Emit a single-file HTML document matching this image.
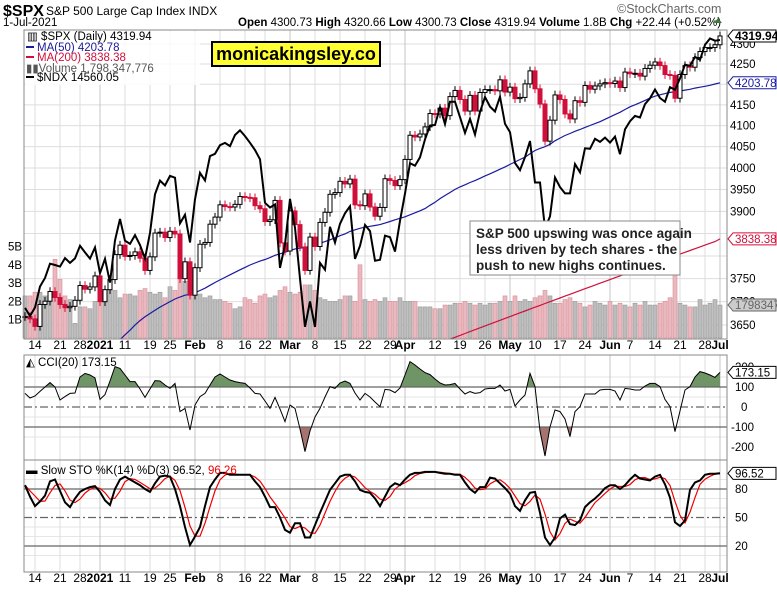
<!DOCTYPE html>
<html><head><meta charset="utf-8"><style>
body{margin:0;background:#fff;}
svg text{font-family:"Liberation Sans",Arial,sans-serif;}
</style></head><body>
<svg id="chart" width="777" height="587" viewBox="0 0 777 587" xmlns="http://www.w3.org/2000/svg">
<rect x="0" y="0" width="777" height="587" fill="#fff"/>
<g>
<text x="3" y="16" font-size="16" font-weight="bold">$SPX</text>
<text x="46" y="15" font-size="12">S&amp;P 500 Large Cap Index  INDX</text>
<text x="3" y="26" font-size="11.5">1-Jul-2021</text>
<text x="617" y="13" font-size="12.5" fill="#666">©StockCharts.com</text>
<text x="238" y="26" font-size="11.5"><tspan font-weight="bold">Open</tspan> 4300.73 <tspan font-weight="bold">High</tspan> 4320.66 <tspan font-weight="bold">Low</tspan> 4300.73 <tspan font-weight="bold">Close</tspan> 4319.94 <tspan font-weight="bold">Volume</tspan> 1.8B <tspan font-weight="bold">Chg</tspan> +22.44 (+0.52%)</text>
<polygon points="714,23 722,23 718,18" fill="#3a7a3a"/>
</g>
<g id="grid"></g>
<g id="marks"></g>
<g id="axes"></g>
<g font-size="11.5">
<rect x="25" y="31" width="175" height="54" fill="#fff" opacity="0.85"/>
<text x="27" y="40">▥ $SPX (Daily) 4319.94</text>
<line x1="26" y1="47" x2="34" y2="47" stroke="#1a1a9a" stroke-width="2"/>
<text x="37" y="51" fill="#1a1a9a">MA(50) 4203.78</text>
<line x1="26" y1="57" x2="34" y2="57" stroke="#d0103a" stroke-width="2"/>
<text x="37" y="61" fill="#d0103a">MA(200) 3838.38</text>
<text x="26" y="72" fill="#555">▮▮Volume 1,798,347,776</text>
<line x1="26" y1="77" x2="34" y2="77" stroke="#000" stroke-width="2"/>
<text x="37" y="81">$NDX 14560.05</text>
</g>
<g>
<rect x="212" y="42" width="168" height="24" fill="#ffff33" stroke="#000" stroke-width="2"/>
<text x="296" y="60" font-size="18" font-weight="bold" text-anchor="middle">monicakingsley.co</text>
</g>
<g>
<rect x="470" y="221" width="210" height="54" fill="#fff" stroke="#888" stroke-width="1"/>
<text x="476" y="238" font-size="13.5" font-weight="bold" fill="#222">S&amp;P 500 upswing was once again</text>
<text x="476" y="254" font-size="13.5" font-weight="bold" fill="#222">less driven by tech shares - the</text>
<text x="476" y="270" font-size="13.5" font-weight="bold" fill="#222">push to new highs continues.</text>
</g>
<text x="26" y="366" font-size="11.5">◭ CCI(20) 173.15</text>
<text x="26" y="474" font-size="11.5">▬ Slow STO %K(14) %D(3) 96.52, <tspan fill="#e00">96.26</tspan></text>
</svg>
<script>
const closes=[3668,3663,3647,3694,3701,3722,3709,3694,3687,3690,3703,3735,3727,3732,3756,
3700,3726,3748,3803,3824,3799,3801,3809,3795,3768,3798,3851,3853,3841,3855,3849,3750,3787,3714,
3774,3826,3830,3871,3887,3915,3911,3910,3916,3934,3932,3931,3913,3906,3877,3881,3925,3829,3811,
3901,3870,3820,3768,3842,3821,3875,3898,3939,3943,3969,3963,3974,3915,3913,3940,3910,3889,3909,3975,3971,3959,3973,
4020,4077,4073,4080,4097,4129,4128,4142,4124,4170,4185,4163,4135,4173,4135,4180,4187,4187,4184,4211,4181,
4193,4165,4168,4201,4233,4189,4152,4063,4113,4174,4163,4128,4116,4160,4156,4197,4188,4196,4201,4204,
4202,4208,4192,4230,4226,4227,4220,4239,4247,4255,4246,4224,4222,4166,4224,4246,4242,4266,4281,4291,4291,4298,
4320];
const priorCloses=[3363,3380,3348,3408,3361,3419,3446,3477,3535,3534,3512,3483,3483,3427,3435,3443,3453,3465,3400,3391,3271,3310,3270,
3310,3369,3443,3510,3509,3550,3546,3573,3537,3585,3626,3609,3567,3582,3557,3582,3636,3629,3630,3638,3662,3669,3666,3699,3691,3702,3672];
const ndx=[12437,12378,12440,12595,12658,12765,12755,12743,12807,12771,12805,12900,12850,12803,12888,
12694,12802,12624,12941,13105,12939,12914,12981,12906,12804,12998,13297,13404,13366,13441,13427,13071,13138,12925,
13258,13465,13406,13599,13617,13686,13705,13679,13769,13807,13760,13706,13648,13573,13230,13194,13217,12733,12909,
13261,13038,12653,12300,12484,12299,12771,12720,13045,12924,13068,13149,13203,12801,12900,13059,13012,12787,12794,12977,12965,12856,13091,
13302,13542,13522,13589,13733,13845,13850,13996,13857,14041,14041,13914,13786,13900,13773,13957,14080,14001,13960,14082,13860,
13791,13544,13487,13590,13720,13389,13389,13032,13125,13429,13353,13304,13304,13535,13470,13661,13657,13738,13713,13748,
13707,13756,13614,13814,13881,13924,13911,14021,14069,14142,14072,14040,14161,14140,14235,14350,14340,14416,14391,14519,14573,14554,
14560];
const volumeB=[2.3,2.3,2.5,2.5,2.3,2.2,4.3,3.2,2.3,2.1,0.8,1.7,1.7,1.6,2.0,
2.6,2.3,2.8,2.6,2.2,2.4,2.4,2.3,2.6,2.7,2.5,2.4,2.5,2.2,2.8,2.6,3.5,3.1,3.3,
2.4,2.4,2.2,2.3,2.1,2.1,2.0,1.9,1.6,1.7,2.2,2.1,1.9,2.3,2.4,2.2,2.3,2.6,2.8,
2.5,2.4,2.5,2.9,2.9,2.6,2.2,2.1,2.0,2.0,2.1,2.3,2.3,2.0,4.0,2.1,2.0,2.1,2.0,2.2,2.0,2.0,2.2,
2.0,2.0,2.0,1.7,1.7,1.7,1.6,1.6,1.8,1.8,1.9,1.9,2.0,1.9,1.8,1.9,1.8,1.9,1.9,2.0,2.3,
2.0,2.3,2.0,2.1,2.0,2.2,2.3,2.6,2.3,1.9,1.9,2.1,2.2,2.0,1.9,1.7,1.8,2.0,1.9,1.8,
2.0,1.8,1.9,1.8,1.7,1.9,1.8,2.0,1.8,1.8,1.9,2.0,2.2,3.7,1.9,1.8,1.7,1.7,2.1,1.8,1.9,2.1,
1.8];
const ma200=[null,null,null,null,null,null,null,null,null,null,null,null,null,null,null,null,null,null,null,null,
null,null,null,null,null,null,null,null,null,null,null,null,null,null,null,null,null,null,null,null,
null,null,null,null,null,null,null,null,null,null,null,null,null,null,null,null,null,null,null,null,
null,null,null,null,null,null,null,null,null,null,null,null,null,null,null,null,null,null,null,null,
3600,3604,3608,3612,3616,3620,3624,3628,3632,3636,3640,3644,3648,3652,3656,3660,3664,3668,3672,3676,
3680,3684,3688,3692,3696,3700,3704,3708,3712,3716,3720,3724,3728,3732,3736,3740,3744,3748,3752,3756,
3760,3764,3768,3772,3776,3780,3784,3788,3792,3796,3800,3804,3808,3812,3816,3820,3824,3828,3832,3838];
const cci=[68,45,55,78,100,122,100,35,52,68,70,150,168,160,145,38,62,130,202,193,160,127,127,90,48,90,132,130,110,93,118,-23,-7,-115,10,52,68,110,150,165,150,135,127,122,118,95,68,65,30,-7,48,-10,-73,10,-7,-110,-223,-120,-50,-7,50,102,93,120,130,118,70,35,68,50,25,2,88,85,72,95,160,227,210,190,172,162,140,120,110,112,118,90,65,77,68,72,90,93,93,110,80,88,5,35,60,168,102,-120,-245,-100,-15,-23,-60,-148,-23,2,65,65,65,85,88,88,80,35,93,90,85,85,105,118,118,102,38,2,-123,-20,85,102,150,177,170,160,148,173];
const stoK=[84,72,62,67,73,88,90,78,66,61,70,77,80,82,83,77,68,63,80,90,93,90,87,84,80,77,86,93,94,93,80,62,40,21,30,40,62,82,90,97,97,95,95,95,95,95,88,82,72,61,61,50,37,34,44,44,29,29,42,55,67,79,86,93,95,95,88,79,77,76,70,62,72,82,86,84,90,95,97,97,98,98,98,97,96,96,95,95,87,80,76,82,82,92,91,86,81,75,62,57,68,76,77,55,29,21,29,49,53,43,42,47,61,66,70,75,81,84,84,80,84,90,95,91,90,89,93,95,85,71,45,41,47,79,87,89,95,96,96,96.5];
const dateLabels=["14","21","28","2021","11","19","25","Feb","8","16","22","Mar","8","15","22","29","Apr","12","19","26","May","10","17","24","Jun","7","14","21","28","Jul"];
const dateIdx=[2,7,11,15,20,25,29,34,39,44,48,53,58,63,68,73,76,82,87,92,97,102,107,112,117,121,126,131,136,139];
const boldLabels=["2021","Feb","Mar","Apr","May","Jun","Jul"];
const priceTicks=[4300,4250,4150,4100,4050,4000,3950,3900,3750,3700,3650];
const priceGrid=[4300,4250,4200,4150,4100,4050,4000,3950,3900,3850,3800,3750,3700,3650];
const volTicks=[1,2,3,4,5];
const cciTicks=[200,100,0,-100,-200];
const stoTicks=[80,50,20];

const NS="http://www.w3.org/2000/svg";
const L=24,R=727;
function px(k){return 25+5*k;}
function py(p){return 64+1715*Math.log(4250/p);}
function pn(v){return 40+1700*Math.log(14560/v);}
function pv(v){return 338-18.3*v;}
function pc(v){return 407-0.2*v;}
function ps(v){return 565-0.95*v;}
function el(tag,attrs,parent){const e=document.createElementNS(NS,tag);for(const k in attrs)e.setAttribute(k,attrs[k]);parent.appendChild(e);return e;}
const svg=document.getElementById('chart');
const grid=document.getElementById('grid'),marks=document.getElementById('marks'),axes=document.getElementById('axes');

const defs=el('defs',{},svg);
const c1=el('clipPath',{id:'mainClip'},defs);el('rect',{x:L,y:30,width:R-L,height:309},c1);
const c2=el('clipPath',{id:'cciUp'},defs);el('rect',{x:L,y:355,width:R-L,height:pc(100)-355},c2);
const c3=el('clipPath',{id:'cciDn'},defs);el('rect',{x:L,y:pc(-100),width:R-L,height:460-pc(-100)},c3);
const c4=el('clipPath',{id:'cciClip'},defs);el('rect',{x:L,y:355,width:R-L,height:105},c4);

priceGrid.forEach(p=>{const l=el('line',{x1:L,x2:R,y1:py(p),y2:py(p),stroke:'#dedede'},grid);

});
[150,50,-50,-150].forEach(v=>{el('line',{x1:L,x2:R,y1:pc(v),y2:pc(v),stroke:'#e6e6e6'},grid);});
[90,70,60,40,30,10].forEach(v=>{el('line',{x1:L,x2:R,y1:ps(v),y2:ps(v),stroke:'#e6e6e6'},grid);});
dateIdx.forEach((k,j)=>{const b=boldLabels.includes(dateLabels[j]);
[[30,339],[355,460],[460,572]].forEach(r=>{el('line',{x1:px(k),x2:px(k),y1:r[0],y2:r[1],stroke:b?'#c4c4c4':'#dedede'},grid);});});

volumeB.forEach((v,k)=>{const down=k>0&&closes[k]<closes[k-1];
const r=el('rect',{x:px(k)-2,y:pv(v),width:4,height:338-pv(v),fill:down?'#e9b9bf':'#bcbcbc',stroke:down?'#d98a95':'#999','stroke-width':0.6},marks);

});

function line(vals,fx,fy,attrs,name,clip){let d='';vals.forEach((v,k)=>{if(v==null)return;d+=(d?'L':'M')+fx(k).toFixed(1)+','+fy(v).toFixed(1);});
const p=el('path',Object.assign({d:d,fill:'none'},attrs),marks);if(clip)p.setAttribute('clip-path','url(#'+clip+')');

return p;}

const all=priorCloses.concat(closes);
const ma50=closes.map((c,k)=>{const e=k+priorCloses.length;let s=0;for(let j=e-49;j<=e;j++)s+=all[j];return s/50;});
line(ma200,px,py,{stroke:'#d0103a','stroke-width':1.2},'ma200-line','mainClip');
line(ma50,px,py,{stroke:'#1a1aa0','stroke-width':1.2},'ma50-line','mainClip');

closes.forEach((c,k)=>{const o=k>0?closes[k-1]:c;const down=k>0&&c<closes[k-1];
const hi=Math.max(o,c)*1.0025,lo=Math.min(o,c)*0.9975;const col=down?'#d0103a':'#000';
const g=el('g',{},marks);


el('line',{x1:px(k),x2:px(k),y1:py(hi),y2:py(lo),stroke:col,'stroke-width':1},g);
const top=py(Math.max(o,c)),h=Math.max(1,py(Math.min(o,c))-top);
el('rect',{x:px(k)-2,y:top,width:4,height:h,fill:c<o?col:'#fff',stroke:col,'stroke-width':1},g);});

line(ndx,px,pn,{stroke:'#000','stroke-width':2},'ndx-line','mainClip');

let cd='';cci.forEach((v,k)=>{cd+=(cd?'L':'M')+px(k)+','+pc(v).toFixed(1);});
const cu=el('path',{d:cd+'L'+px(cci.length-1)+','+pc(100)+'L'+px(0)+','+pc(100)+'Z',fill:'#6f9465',stroke:'none','clip-path':'url(#cciUp)'},marks);


const cdn=el('path',{d:cd+'L'+px(cci.length-1)+','+pc(-100)+'L'+px(0)+','+pc(-100)+'Z',fill:'#a57470',stroke:'none','clip-path':'url(#cciDn)'},marks);


[100,-100].forEach(v=>el('line',{x1:L,x2:R,y1:pc(v),y2:pc(v),stroke:'#666','stroke-width':1.3},marks));
el('line',{x1:L,x2:R,y1:pc(0),y2:pc(0),stroke:'#666','stroke-width':1.2,'stroke-dasharray':'8,3,2,3'},marks);
line(cci,px,pc,{stroke:'#000','stroke-width':1},'cci-line','cciClip');

const stoD=stoK.map((v,k)=>{const a=stoK.slice(Math.max(0,k-2),k+1);return a.reduce((s,x)=>s+x,0)/a.length;});
[80,20].forEach(v=>el('line',{x1:L,x2:R,y1:ps(v),y2:ps(v),stroke:'#666','stroke-width':1.3},marks));
el('line',{x1:L,x2:R,y1:ps(50),y2:ps(50),stroke:'#666','stroke-width':1.2,'stroke-dasharray':'8,3,2,3'},marks);
line(stoD,px,ps,{stroke:'#e00','stroke-width':1.2},'sto-d-line');
line(stoK,px,ps,{stroke:'#000','stroke-width':2},'sto-k-line');

[[30,339],[355,460],[460,572]].forEach(r=>{el('rect',{x:L,y:r[0],width:R-L,height:r[1]-r[0],fill:'none',stroke:'#888','stroke-width':1},axes);});

dateLabels.forEach((t,j)=>{const b=boldLabels.includes(t);[350,583].forEach(y=>{
const tx=el('text',{x:px(dateIdx[j]),y:y-1,'font-size':12,'text-anchor':'middle','font-weight':b?'bold':'normal'},axes);tx.textContent=t;

});});

priceTicks.forEach(p=>{const t=el('text',{x:730,y:py(p)+4,'font-size':11.5},axes);t.textContent=p;

});
volTicks.forEach(v=>{const t=el('text',{x:8,y:pv(v)+4,'font-size':11.5},axes);t.textContent=v+'B';

});
cciTicks.forEach(v=>{const t=el('text',{x:v<0?731:(v===0?741:735),y:pc(v)+4,'font-size':11.5},axes);t.textContent=v;

});
stoTicks.forEach(v=>{const t=el('text',{x:735,y:ps(v)+4,'font-size':11.5},axes);t.textContent=v;

});

function tag(y,txt,color,bg,bold,name){const g=el('g',{},axes);


el('polygon',{points:`728,${y} 733,${y-6} 776,${y-6} 776,${y+6} 733,${y+6}`,fill:bg,stroke:color,'stroke-width':1},g);
const t=el('text',{x:735,y:y+4,'font-size':bold?12:11.5,'font-weight':bold?'bold':'normal',fill:bold?'#000':color},g);t.textContent=txt;}
tag(py(closes[closes.length-1]),'4319.94','#000','#fff',true,'last-price-tag');
tag(py(ma50[ma50.length-1]),'4203.78','#1a1aa0','#fff',false,'ma50-tag');
tag(py(ma200[ma200.length-1]),'3838.38','#d0103a','#fff',false,'ma200-tag');
tag(pv(volumeB[volumeB.length-1]),'1798347','#666','#ccc',false,'volume-tag');
tag(pc(cci[cci.length-1]),'173.15','#000','#fff',false,'cci-tag');
tag(ps(stoK[stoK.length-1]),'96.52','#000','#fff',false,'sto-tag');
</script>
</body></html>
